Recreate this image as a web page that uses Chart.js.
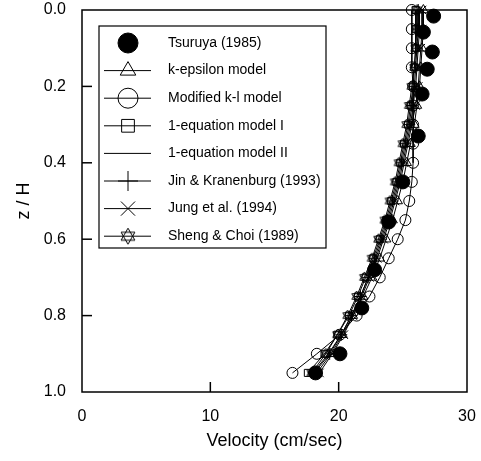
<!DOCTYPE html>
<html lang="en">
<head>
<meta charset="UTF-8">
<title>Velocity profile</title>
<script src="https://cdn.jsdelivr.net/npm/chart.js"></script>
<style>
  html, body { margin: 0; padding: 0; background: #fff; }
  #wrap { width: 481px; height: 461px; }
</style>
</head>
<body>
<div id="wrap"><canvas id="chart" width="481" height="461"></canvas></div>
<script>
// measured data (z/H vs velocity cm/sec)
const tsuruyaZ = [0.016, 0.058, 0.11, 0.155, 0.22, 0.33, 0.45, 0.555, 0.68, 0.78, 0.90, 0.95];
const tsuruyaV = [27.4, 26.6, 27.3, 26.9, 26.5, 26.2, 25.0, 23.9, 22.8, 21.8, 20.1, 18.2];

// model output levels
const modelZ = [0, 0.05, 0.10, 0.15, 0.20, 0.25, 0.30, 0.35, 0.40, 0.45,
                0.50, 0.55, 0.60, 0.65, 0.70, 0.75, 0.80, 0.85, 0.90, 0.95];
const kEpsV   = [26.6, 26.6, 26.5, 26.4, 26.3, 26.1, 25.9, 25.6, 25.3, 25.0, 24.6, 24.2, 23.7, 23.2, 22.6, 21.9, 21.1, 20.3, 19.4, 18.3];
const modKLV  = [25.7, 25.7, 25.7, 25.7, 25.8, 25.8, 25.8, 25.8, 25.8, 25.7, 25.5, 25.2, 24.6, 23.9, 23.2, 22.4, 21.4, 20.1, 18.3, 16.4];
const oneEqIV = [26.0, 26.0, 26.0, 25.9, 25.8, 25.6, 25.4, 25.1, 24.8, 24.5, 24.1, 23.7, 23.2, 22.7, 22.1, 21.5, 20.8, 19.9, 18.9, 17.6];
const oneEqIIV= [26.3, 26.3, 26.2, 26.1, 26.0, 25.8, 25.6, 25.3, 25.0, 24.7, 24.3, 23.9, 23.4, 22.9, 22.3, 21.7, 21.0, 20.2, 19.2, 18.0];
const jinV    = [26.2, 26.2, 26.1, 26.0, 25.9, 25.7, 25.5, 25.2, 24.9, 24.6, 24.2, 23.8, 23.3, 22.8, 22.3, 21.7, 21.0, 20.2, 19.3, 18.1];
const jungV   = [26.5, 26.5, 26.4, 26.3, 26.2, 26.0, 25.7, 25.4, 25.1, 24.8, 24.4, 24.0, 23.5, 23.0, 22.4, 21.8, 21.1, 20.4, 19.5, 18.5];
const shengV  = [26.1, 26.1, 26.0, 25.9, 25.7, 25.5, 25.3, 25.0, 24.7, 24.4, 24.0, 23.6, 23.1, 22.6, 22.0, 21.4, 20.7, 19.9, 19.0, 17.9];

const seriesLabels = ['Tsuruya (1985)', 'k-epsilon model', 'Modified k-l model', '1-equation model I',
                      '1-equation model II', 'Jin & Kranenburg (1993)', 'Jung et al. (1994)', 'Sheng & Choi (1989)'];

const xTicks = [0, 10, 20, 30];
const yTicks = [0.0, 0.2, 0.4, 0.6, 0.8, 1.0];

const FONT = '"Liberation Sans", Arial, sans-serif';

// hexagram (star of David) marker
function makeHexagram(size) {
  const c = document.createElement('canvas');
  c.width = size; c.height = size;
  const g = c.getContext('2d');
  const cx = size / 2, cy = size / 2, r = size / 2 - 1;
  g.strokeStyle = '#000';
  g.lineWidth = 1;
  [-Math.PI / 2, Math.PI / 2].forEach(a0 => {
    g.beginPath();
    for (let i = 0; i < 3; i++) {
      const a = a0 + i * 2 * Math.PI / 3;
      const px = cx + r * Math.cos(a), py = cy + r * Math.sin(a);
      if (i === 0) g.moveTo(px, py); else g.lineTo(px, py);
    }
    g.closePath();
    g.stroke();
  });
  return c;
}
const hexSmall = makeHexagram(13);
const hexBig = makeHexagram(18);

function pts(vs, zs) { return vs.map((v, i) => ({ x: v, y: zs[i] })); }

const clear = 'rgba(0,0,0,0)';
const styles = [
  { style: 'circle',   r: 7,   fill: '#000', legendR: 10, line: false },
  { style: 'triangle', r: 5.5, fill: clear,  legendR: 9,  line: true },
  { style: 'circle',   r: 5.5, fill: clear,  legendR: 10, line: true },
  { style: 'rect',     r: 5,   fill: clear,  legendR: 9,  line: true },
  { style: 'circle',   r: 0,   fill: clear,  legendR: 0,  line: true },
  { style: 'cross',    r: 6,   fill: clear,  legendR: 10, line: true },
  { style: 'crossRot', r: 6,   fill: clear,  legendR: 10, line: true },
  { style: hexSmall,   r: 6,   fill: clear,  legendR: 9,  line: true, legendStyle: hexBig }
];

const allData = [
  pts(tsuruyaV, tsuruyaZ), pts(kEpsV, modelZ), pts(modKLV, modelZ), pts(oneEqIV, modelZ),
  pts(oneEqIIV, modelZ), pts(jinV, modelZ), pts(jungV, modelZ), pts(shengV, modelZ)
];

const datasets = allData.map((d, i) => ({
  label: seriesLabels[i],
  data: d,
  showLine: styles[i].line,
  clip: false,
  borderColor: '#000',
  borderWidth: 1,
  pointStyle: styles[i].style,
  pointRadius: styles[i].r,
  pointBackgroundColor: styles[i].fill,
  pointBorderColor: '#000',
  pointBorderWidth: 1,
  order: i === 0 ? 0 : 1
}));

// frame, inward ticks, legend box
const framePlugin = {
  id: 'frame',
  afterDraw(chart) {
    const { ctx, chartArea: a, scales } = chart;
    ctx.save();
    ctx.strokeStyle = '#000';
    ctx.lineWidth = 1.5;
    ctx.strokeRect(a.left, a.top, a.right - a.left, a.bottom - a.top);
    yTicks.forEach(t => {
      if (t === 0 || t === 1) return;
      const y = scales.y.getPixelForValue(t);
      ctx.beginPath(); ctx.moveTo(a.left, y); ctx.lineTo(a.left + 10, y); ctx.stroke();
    });
    xTicks.forEach(t => {
      if (t === 0 || t === 30) return;
      const x = scales.x.getPixelForValue(t);
      ctx.beginPath(); ctx.moveTo(x, a.bottom); ctx.lineTo(x, a.bottom - 10); ctx.stroke();
    });

    // legend
    const bx = 99, by = 26, bw = 227, bh = 222;
    ctx.fillStyle = '#fff';
    ctx.fillRect(bx, by, bw, bh);
    ctx.lineWidth = 1.2;
    ctx.strokeRect(bx, by, bw, bh);
    ctx.font = '14px ' + FONT;
    ctx.textBaseline = 'middle';
    seriesLabels.forEach((lab, i) => {
      const y = 43 + i * 27.6;
      const s = styles[i];
      ctx.strokeStyle = '#000';
      ctx.lineWidth = 1;
      if (i > 0) {
        ctx.beginPath(); ctx.moveTo(104, y); ctx.lineTo(151, y); ctx.stroke();
      }
      if (s.legendR > 0) {
        ctx.fillStyle = s.fill;
        Chart.helpers.drawPoint(ctx, {
          pointStyle: s.legendStyle || s.style, radius: s.legendR, borderWidth: 1, rotation: 0
        }, 128, y);
      }
      ctx.fillStyle = '#000';
      ctx.fillText(lab, 168, y);
    });
    ctx.restore();
  }
};

new Chart(document.getElementById('chart'), {
  type: 'scatter',
  data: { datasets },
  options: {
    responsive: false,
    animation: false,
    layout: { padding: { top: 10, right: 14, left: 0, bottom: 0 } },
    plugins: { legend: { display: false }, tooltip: { enabled: false } },
    scales: {
      x: {
        type: 'linear', min: 0, max: 30,
        afterFit(s) { s.height = 69; s.paddingLeft = 0; s.paddingRight = 0; },
        afterBuildTicks(s) { s.ticks = xTicks.map(v => ({ value: v })); },
        grid: { display: false },
        border: { display: false },
        ticks: { color: '#000', padding: 7, font: { size: 16, family: FONT } },
        title: { display: true, text: 'Velocity (cm/sec)', color: '#000',
                 padding: { top: 0, bottom: 9 },
                 font: { size: 18, family: FONT } }
      },
      y: {
        type: 'linear', min: 0, max: 1, reverse: true,
        afterFit(s) { s.width = 82; s.paddingTop = 0; s.paddingBottom = 0; },
        afterBuildTicks(s) { s.ticks = yTicks.map(v => ({ value: v })); },
        grid: { display: false },
        border: { display: false },
        ticks: { color: '#000', padding: 8, callback: v => v.toFixed(1),
                 font: { size: 16, family: FONT } },
        title: { display: true, text: 'z / H', color: '#000',
                 padding: { top: 13, bottom: 0 },
                 font: { size: 18, family: FONT } }
      }
    }
  },
  plugins: [framePlugin]
});
</script>
</body>
</html>
